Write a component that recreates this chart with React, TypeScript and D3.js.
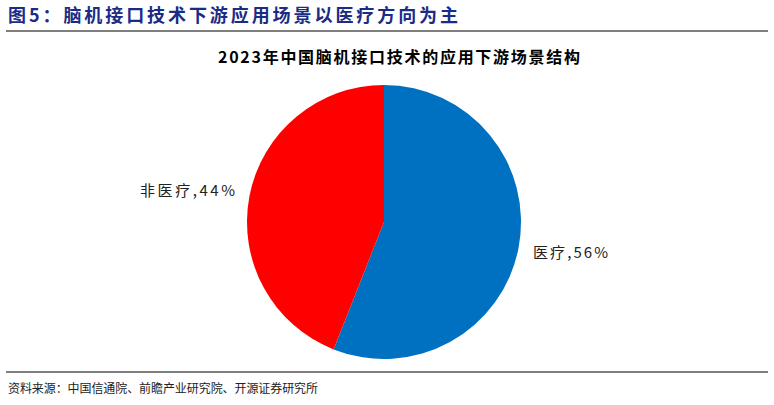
import React from "react";
import * as d3 from "d3";

const categories = ["医疗", "非医疗"];
const values = [56, 44];
const colors = ["#0070C0", "#FF0000"];
const headerTitle = "图5：脑机接口技术下游应用场景以医疗方向为主";
const chartTitle = "2023年中国脑机接口技术的应用下游场景结构";
const sourceText = "资料来源：中国信通院、前瞻产业研究院、开源证券研究所";

export default function App() {
  const W = 774, H = 405;
  const cx = 384, cy = 222, r = 137;
  const pie = d3.pie<number>().sort(null).value((d) => d)(values);
  const arc = d3.arc<d3.PieArcDatum<number>>().innerRadius(0).outerRadius(r);
  const total = d3.sum(values);
  const labelPos = [
    { x: 533, y: 258, anchor: "start", len: 75 },
    { x: 235, y: 196, anchor: "end", len: 95 },
  ];
  return (
    <svg width={W} height={H} style={{ position: "absolute", left: 0, top: 0, background: "#fff" }}>
      <text x={8} y={22} fontFamily="'Noto Sans CJK SC', sans-serif" fontWeight="bold" fontSize={18}
        fill="#1A2C85" textLength={450} lengthAdjust="spacing">{headerTitle}</text>
      <line x1={6} x2={768} y1={31} y2={31} stroke="#7F7F7F" strokeWidth={2} />
      <text x={399} y={63} textAnchor="middle" fontFamily="'Noto Sans CJK SC', sans-serif" fontWeight="bold"
        fontSize={16} fill="#000" textLength={362} lengthAdjust="spacing">{chartTitle}</text>
      <g transform={`translate(${cx},${cy})`}>
        {pie.map((p, i) => (
          <path key={i} d={arc(p) as string} fill={colors[i]} />
        ))}
      </g>
      {pie.map((p, i) => (
        <text key={i} x={labelPos[i].x} y={labelPos[i].y} textAnchor={labelPos[i].anchor as any}
          fontFamily="'Noto Sans CJK SC', 'Liberation Serif', serif" fontSize={15} fill="#222"
          textLength={labelPos[i].len} lengthAdjust="spacing">
          {`${categories[i]},${Math.round((values[i] / total) * 100)}%`}
        </text>
      ))}
      <line x1={6} x2={768} y1={372} y2={372} stroke="#7F7F7F" strokeWidth={2} />
      <text x={8} y={393} fontFamily="'Noto Sans CJK SC', sans-serif" fontSize={12} fill="#222"
        textLength={310} lengthAdjust="spacing">{sourceText}</text>
    </svg>
  );
}
